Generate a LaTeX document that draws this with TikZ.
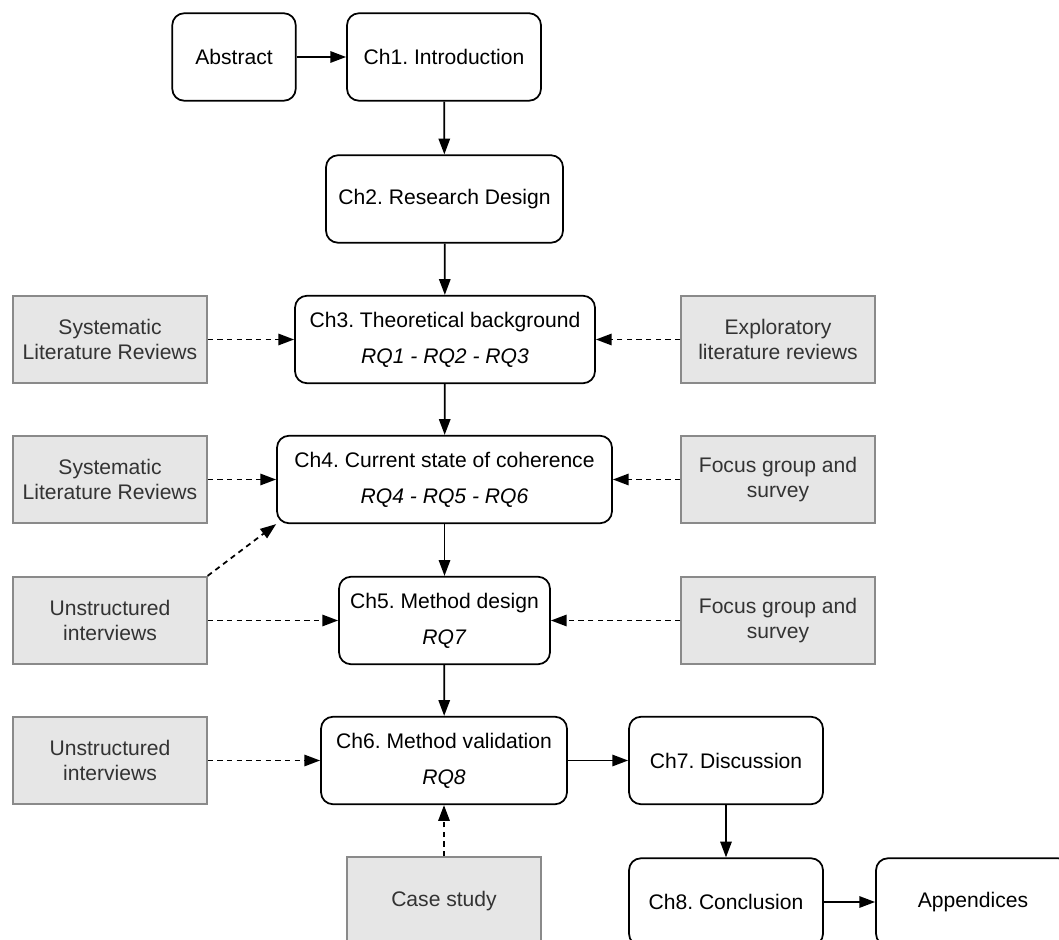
\documentclass[tikz,border=0pt]{standalone}
\usepackage{fontspec}
\setmainfont{Liberation Sans}
\usetikzlibrary{arrows.meta}
\definecolor{boxgray}{HTML}{E6E6E6}
\definecolor{edgegray}{HTML}{8A8A8A}
\definecolor{textgray}{HTML}{333333}
\frenchspacing

\begin{document}
\begin{tikzpicture}[
    font=\fontsize{12}{14.4}\selectfont,
    chapter/.style={draw, line width=1pt, rounded corners=0.24cm, fill=white,
        align=center, minimum height=1.75cm, inner sep=2pt},
    source/.style={draw=edgegray, line width=1pt, fill=boxgray, text=textgray,
        align=center, minimum width=3.87cm, minimum height=1.75cm, inner sep=2pt},
    flow/.style={-{Triangle[length=9pt,width=6.5pt]}, line width=1pt},
    feed/.style={flow, dash pattern=on 3pt off 2.5pt}
]
    \useasboundingbox (0,0) rectangle (21.18,-18.8);

    % Chapters
    \node[chapter, minimum width=2.47cm] (abstract) at (4.68,-1.14) {Abstract};
    \node[chapter, minimum width=3.88cm] (intro) at (8.88,-1.14) {Ch1. Introduction};
    \node[chapter, minimum width=4.74cm] (design) at (8.89,-3.98) {Ch2. Research Design};
    \node[chapter, minimum width=6.0cm] (theory) at (8.9,-6.79)
        {Ch3. Theoretical background\\[6pt]\textit{RQ1 - RQ2 - RQ3}};
    \node[chapter, minimum width=6.7cm] (coherence) at (8.89,-9.59)
        {Ch4. Current state of coherence\\[6pt]\textit{RQ4 - RQ5 - RQ6}};
    \node[chapter, minimum width=4.22cm] (method) at (8.89,-12.41)
        {Ch5. Method design\\[6pt]\textit{RQ7}};
    \node[chapter, minimum width=4.92cm] (validation) at (8.88,-15.21)
        {Ch6. Method validation\\[6pt]\textit{RQ8}};
    \node[chapter, minimum width=3.88cm] (discussion) at (14.52,-15.21) {Ch7. Discussion};
    \node[chapter, minimum width=3.88cm] (conclusion) at (14.52,-18.04) {Ch8. Conclusion};
    \node[chapter, minimum width=3.88cm] (appendix) at (19.46,-18.04) {Appendices};

    % Sources
    \node[source] (slrA) at (2.2,-6.79) {Systematic\\Literature Reviews};
    \node[source] (explore) at (15.56,-6.79) {Exploratory\\literature reviews};
    \node[source] (slrB) at (2.2,-9.59) {Systematic\\Literature Reviews};
    \node[source] (focusA) at (15.56,-9.59) {Focus group and\\survey};
    \node[source] (interviewA) at (2.2,-12.41) {Unstructured\\interviews};
    \node[source] (focusB) at (15.56,-12.41) {Focus group and\\survey};
    \node[source] (interviewB) at (2.2,-15.21) {Unstructured\\interviews};
    \node[source] (casestudy) at (8.88,-18.02) {Case study};

    % Reading order
    \draw[flow] (abstract) -- (intro);
    \draw[flow] (intro) -- (design);
    \draw[flow] (design) -- (theory);
    \draw[flow] (theory) -- (coherence);
    \draw[flow] (coherence) -- (method);
    \draw[flow] (method) -- (validation);
    \draw[flow] (validation) -- (discussion);
    \draw[flow] (discussion) -- (conclusion);
    \draw[flow] (conclusion) -- (appendix);

    % Inputs
    \draw[feed] (slrA) -- (theory);
    \draw[feed] (explore) -- (theory);
    \draw[feed] (slrB) -- (coherence);
    \draw[feed] (focusA) -- (coherence);
    \draw[feed] (interviewA.north east) -- (coherence.south west);
    \draw[feed] (interviewA) -- (method);
    \draw[feed] (focusB) -- (method);
    \draw[feed] (interviewB) -- (validation);
    \draw[feed] (casestudy) -- (validation);
\end{tikzpicture}
\end{document}
